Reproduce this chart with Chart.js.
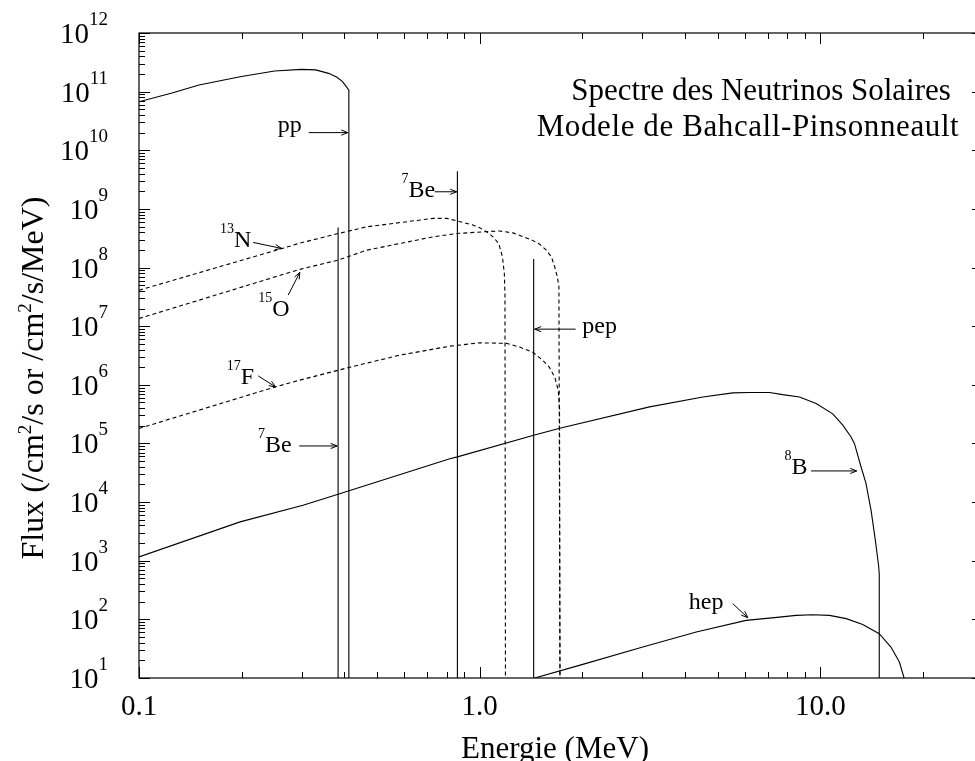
<!DOCTYPE html>
<html>
<head>
<meta charset="utf-8">
<script src="https://cdn.jsdelivr.net/npm/chart.js@4.4.0/dist/chart.umd.min.js"></script>
<style>
html, body { margin: 0; padding: 0; background: #fff; overflow: hidden; }
</style>
</head>
<body>
<canvas id="myChart" width="990" height="761"></canvas>
<script>
const ctx = document.getElementById('myChart');
const serif = "'Liberation Serif', 'Times New Roman', serif";

// Spectra (energy in MeV, flux)
const ppEnergy = [0.1, 0.125, 0.15, 0.198, 0.25, 0.30, 0.33, 0.36, 0.38, 0.395, 0.405, 0.413, 0.413];
const ppFlux = [6.7e10, 9.5e10, 1.3e11, 1.8e11, 2.25e11, 2.4e11, 2.35e11, 2.05e11, 1.78e11, 1.5e11, 1.24e11, 1.06e11, 10];

const n13Energy = [0.1, 0.262, 0.296, 0.384, 0.466, 0.73, 0.8, 0.956, 1.0, 1.046, 1.094, 1.137, 1.166, 1.181, 1.186, 1.19];
const n13Flux = [4.1e7, 2.1e8, 2.6e8, 3.8e8, 4.95e8, 6.9e8, 6.9e8, 5.3e8, 4.76e8, 4.1e8, 3.34e8, 2.58e8, 1.52e8, 7.9e7, 3.6e7, 10];

const o15Energy = [0.1, 0.296, 0.384, 0.466, 0.73, 0.854, 1.046, 1.145, 1.252, 1.43, 1.50, 1.569, 1.623, 1.66, 1.69, 1.708, 1.72];
const o15Flux = [1.35e7, 9.3e7, 1.34e8, 1.98e8, 3.34e8, 3.8e8, 4.1e8, 4.2e8, 3.9e8, 2.9e8, 2.5e8, 1.98e8, 1.52e8, 1.03e8, 6.9e7, 4.7e7, 10];

const f17Energy = [0.1, 0.251, 0.296, 0.416, 0.582, 0.817, 1.0, 1.198, 1.31, 1.43, 1.533, 1.60, 1.66, 1.70, 1.715, 1.72];
const f17Flux = [1.8e5, 9.2e5, 1.2e6, 2.0e6, 3.2e6, 4.56e6, 5.2e6, 5.1e6, 4.4e6, 3.6e6, 2.6e6, 2.0e6, 1.36e6, 8.1e5, 4e5, 10];

const b8Energy = [0.1, 0.198, 0.303, 0.384, 0.817, 0.86, 1.44, 1.73, 3.15, 4.52, 5.53, 6.19, 7.09, 7.75, 8.68, 9.71, 10.87, 11.63, 12.3,
    12.58, 13.16, 13.6, 14.08, 14.5, 14.83, 14.88, 14.88];
const b8Flux = [1.16e3, 4.6e3, 8.8e3, 1.36e4, 5.5e4, 5.9e4, 1.38e5, 1.84e5, 4.2e5, 6.2e5, 7.3e5, 7.4e5, 7.4e5, 6.8e5, 6.2e5, 4.8e5, 3.2e5, 2.05e5, 1.29e5,
    1e5, 3.97e4, 2.1e4, 7.2e3, 2.2e3, 780, 600, 10];

const hepEnergy = [1.45, 1.96, 3.01, 4.32, 6.05, 7.58, 8.48, 9.48, 10.63, 11.9, 13.31, 14.88, 16.1, 17.05, 17.6];
const hepFlux = [10, 16.4, 33.7, 60.7, 96, 109, 117, 120, 117, 103, 82, 57, 33.7, 18.7, 10];

// Line sources (7Be 0.384, 7Be 0.862, pep)
const lineEnergy = [0.384, 0.86, 1.44];
const lineFlux = [4.8e8, 4.4e9, 1.4e8];

// Axis limits and tick labels
const xMin = 0.1, xMax = 30;
const yMin = 10, yMax = 1e12;
const xTickValues = [0.1, 1, 10];
const xTickLabels = ['0.1', '1.0', '10.0'];
const yDecades = [1, 2, 3, 4, 5, 6, 7, 8, 9, 10, 11, 12];

const titleLines = ['Spectre des Neutrinos Solaires', 'Modele de Bahcall-Pinsonneault'];

// Labels with arrows, placed in data units [energy, flux]
const annotations = [
    {sup: '', text: 'pp', at: [0.2556, 2.05e10], from: [0.315, 2.0e10], to: [0.41, 2.0e10]},
    {sup: '7', text: 'Be', at: [0.589, 1.61e9], from: [0.738, 1.96e9], to: [0.856, 1.96e9]},
    {sup: '13', text: 'N', at: [0.1728, 2.25e8], from: [0.2164, 2.68e8], to: [0.2621, 2.12e8]},
    {sup: '15', text: 'O', at: [0.2238, 1.48e7], from: [0.274, 3.38e7], to: [0.2965, 8.25e7]},
    {sup: '17', text: 'F', at: [0.1808, 1.02e6], from: [0.2238, 1.42e6], to: [0.2517, 9.2e5]},
    {sup: '7', text: 'Be', at: [0.2234, 7.16e4], from: [0.2952, 9.06e4], to: [0.3815, 9.06e4]},
    {sup: '', text: 'pep', at: [2.001, 7.6e6], from: [1.912, 8.9e6], to: [1.45, 8.9e6]},
    {sup: '8', text: 'B', at: [7.84, 2.98e4], from: [9.39, 3.4e4], to: [12.78, 3.4e4]},
    {sup: '', text: 'hep', at: [4.11, 152], from: [5.53, 185], to: [6.12, 107]}
];

function toPoints(xs, ys) {
    return xs.map((x, i) => ({x: x, y: ys[i]}));
}

function curve(xs, ys, dashed) {
    return {
        data: toPoints(xs, ys),
        borderColor: '#000',
        borderWidth: 1.1,
        borderDash: dashed ? [4, 3] : [],
        pointRadius: 0,
        tension: 0,
        fill: false
    };
}

function drawArrow(c, x1, y1, x2, y2) {
    const a = Math.atan2(y2 - y1, x2 - x1);
    const h = 7;
    c.beginPath();
    c.moveTo(x1, y1);
    c.lineTo(x2, y2);
    c.moveTo(x2 - h * Math.cos(a - 0.38), y2 - h * Math.sin(a - 0.38));
    c.lineTo(x2, y2);
    c.lineTo(x2 - h * Math.cos(a + 0.38), y2 - h * Math.sin(a + 0.38));
    c.stroke();
}

// draws a run of [text, isSup] pieces starting at x, returns the width
function drawRich(c, parts, x, y, size, supSize, raise) {
    let w = 0;
    parts.forEach(([t, sup]) => {
        c.font = (sup ? supSize : size) + 'px ' + serif;
        c.fillText(t, x + w, sup ? y - raise : y);
        w += c.measureText(t).width;
    });
    return w;
}

function richWidth(c, parts, size, supSize) {
    let w = 0;
    parts.forEach(([t, sup]) => {
        c.font = (sup ? supSize : size) + 'px ' + serif;
        w += c.measureText(t).width;
    });
    return w;
}

const frameAndLabels = {
    id: 'frameAndLabels',
    afterDraw(chart) {
        const {ctx, chartArea: {left, right, top, bottom}, scales: {x, y}} = chart;
        ctx.save();
        ctx.strokeStyle = '#000';
        ctx.fillStyle = '#000';
        ctx.lineWidth = 1.2;
        ctx.strokeRect(left, top, right - left, bottom - top);

        // tick marks pointing into the plot on all four sides
        ctx.lineWidth = 1;
        ctx.beginPath();
        for (let d = -1; d <= 1; d++) {
            for (let m = 1; m <= 9; m++) {
                const v = m * Math.pow(10, d);
                if (v < xMin || v > xMax) continue;
                const px = Math.round(x.getPixelForValue(v)) + 0.5;
                const len = m === 1 ? 11 : 6;
                ctx.moveTo(px, bottom); ctx.lineTo(px, bottom - len);
                ctx.moveTo(px, top); ctx.lineTo(px, top + len);
            }
        }
        for (let d = 1; d <= 12; d++) {
            for (let m = 1; m <= 9; m++) {
                const v = m * Math.pow(10, d);
                if (v < yMin || v > yMax) continue;
                const py = Math.round(y.getPixelForValue(v)) + 0.5;
                const len = m === 1 ? 11 : 6;
                ctx.moveTo(left, py); ctx.lineTo(left + len, py);
                ctx.moveTo(right, py); ctx.lineTo(right - len, py);
            }
        }
        ctx.stroke();

        // y tick labels 10^n
        ctx.textBaseline = 'alphabetic';
        ctx.textAlign = 'left';
        yDecades.forEach(d => {
            const py = y.getPixelForValue(Math.pow(10, d));
            const parts = [['10', false], [String(d), true]];
            const w = richWidth(ctx, parts, 29, 19);
            drawRich(ctx, parts, 108 - w, py + 10, 29, 19, 18);
        });

        // x tick labels
        ctx.textAlign = 'center';
        ctx.font = '29px ' + serif;
        xTickValues.forEach((v, i) => {
            ctx.fillText(xTickLabels[i], x.getPixelForValue(v), 715);
        });

        // axis titles
        ctx.font = '31px ' + serif;
        ctx.fillText('Energie (MeV)', 555, 758);
        ctx.textAlign = 'left';
        const yTitle = [['Flux (/cm', false], ['2', true], ['/s or /cm', false], ['2', true], ['/s/MeV)', false]];
        ctx.save();
        ctx.translate(43, 378);
        ctx.rotate(-Math.PI / 2);
        const tw = richWidth(ctx, yTitle, 32, 19);
        drawRich(ctx, yTitle, -tw / 2, 0, 32, 19, 12);
        ctx.restore();

        // title block
        ctx.font = '31px ' + serif;
        ctx.textAlign = 'center';
        ctx.fillText(titleLines[0], 761, 100);
        ctx.letterSpacing = '0.6px';
        ctx.fillText(titleLines[1], 748, 136);
        ctx.letterSpacing = '0px';
        ctx.textAlign = 'left';

        // source labels and arrows
        annotations.forEach(a => {
            const tx = x.getPixelForValue(a.at[0]);
            const ty = y.getPixelForValue(a.at[1]);
            const parts = a.sup ? [[a.sup, true], [a.text, false]] : [[a.text, false]];
            drawRich(ctx, parts, tx, ty, 24, 14, 14);
            drawArrow(ctx,
                x.getPixelForValue(a.from[0]), y.getPixelForValue(a.from[1]),
                x.getPixelForValue(a.to[0]), y.getPixelForValue(a.to[1]));
        });
        ctx.restore();
    }
};

const datasets = [
    curve(ppEnergy, ppFlux, false),
    curve(n13Energy, n13Flux, true),
    curve(o15Energy, o15Flux, true),
    curve(f17Energy, f17Flux, true),
    curve(b8Energy, b8Flux, false),
    curve(hepEnergy, hepFlux, false)
];
lineEnergy.forEach((e, i) => {
    datasets.push(curve([e, e], [yMin, lineFlux[i]], false));
});

new Chart(ctx, {
    type: 'line',
    data: {datasets: datasets},
    options: {
        responsive: false,
        animation: false,
        layout: {padding: {left: 139, top: 33, right: 7, bottom: 83}},
        scales: {
            x: {type: 'logarithmic', min: xMin, max: xMax, display: false},
            y: {type: 'logarithmic', min: yMin, max: yMax, display: false}
        },
        plugins: {
            legend: {display: false},
            tooltip: {enabled: false}
        }
    },
    plugins: [frameAndLabels]
});
</script>
</body>
</html>
